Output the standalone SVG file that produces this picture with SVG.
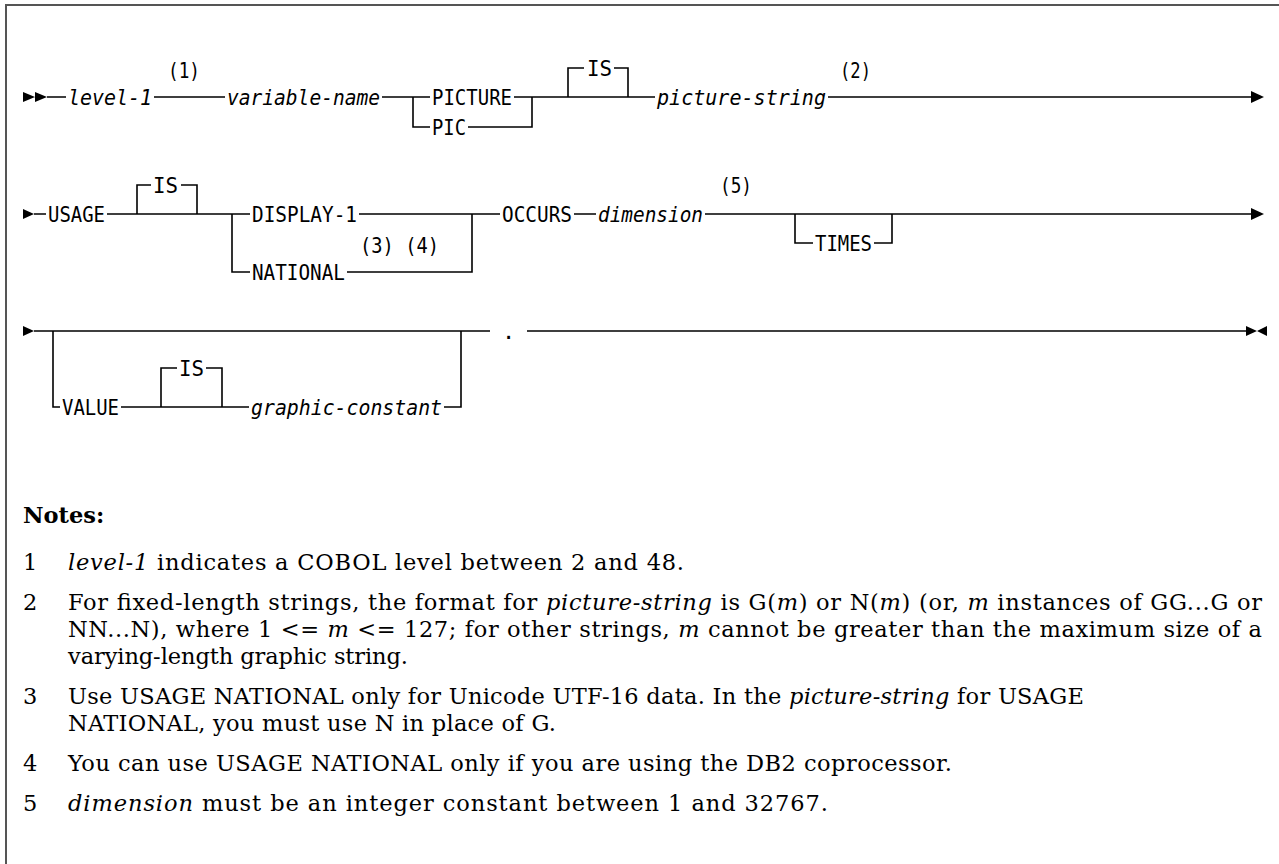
<svg xmlns="http://www.w3.org/2000/svg" width="1279" height="864" viewBox="0 0 1279 864">
<style>
.t{font-family:"DejaVu Sans Mono","Liberation Mono",monospace;font-size:22px;fill:#000}
.i{font-style:italic}
.n{font-family:"DejaVu Serif","Liberation Serif",serif;font-size:22.5px;fill:#000}
.ln{fill:none;stroke:#000;stroke-width:1.6}
.ah{fill:#000}
</style>
<rect width="1279" height="864" fill="#fff"/>
<path d="M6 864 V5 H1279" fill="none" stroke="#555" stroke-width="2"/>
<g id="connectors">
  <path class="ah" d="M23 92 L35 97 L23 102 Z M35 92 L47 97 L35 102 Z"/>
  <path class="ln" d="M47 97 H66 M154 97 H225 M382 97 H430 M514 97 H655 M828 97 H1252"/>
  <path class="ln" d="M413 97 V127 H430 M468 127 H532 V97"/>
  <path class="ln" d="M568 97 V68 H584 M614 68 H628 V97"/>
  <path class="ah" d="M1251 91 L1264 97 L1251 103 Z"/>
  <path class="ah" d="M23 209 L34 214 L23 219 Z"/>
  <path class="ln" d="M34 214 H46 M107 214 H250 M359 214 H500 M574 214 H596 M705 214 H1252"/>
  <path class="ln" d="M137 214 V185 H151 M181 185 H197 V214"/>
  <path class="ln" d="M232 214 V272 H250 M347 272 H472 V214"/>
  <path class="ln" d="M795 214 V243 H813 M874 243 H892 V214"/>
  <path class="ah" d="M1251 208 L1264 214 L1251 220 Z"/>
  <path class="ah" d="M23 326 L34 331 L23 336 Z"/>
  <path class="ln" d="M34 331 H490 M527 331 H1250"/>
  <path class="ln" d="M53 331 V407 H60 M121 407 H249 M444 407 H461 V331"/>
  <path class="ln" d="M161 407 V368 H177 M206 368 H222 V407"/>
  <path class="ah" d="M1246 326 L1257 331 L1246 336 Z M1267 326 L1257 331 L1267 336 Z"/>
</g>
<g id="row1">
  <text id="level-1" class="t i" x="68" y="105" textLength="84" lengthAdjust="spacingAndGlyphs">level-1</text>
  <text id="note1" class="t" x="168" y="78" textLength="32" lengthAdjust="spacingAndGlyphs">(1)</text>
  <text id="variable-name" class="t i" x="227" y="105" textLength="153" lengthAdjust="spacingAndGlyphs">variable-name</text>
  <text id="picture" class="t" x="432" y="105" textLength="80" lengthAdjust="spacingAndGlyphs">PICTURE</text>
  <text id="pic" class="t" x="432" y="135" textLength="34" lengthAdjust="spacingAndGlyphs">PIC</text>
  <text id="is1" class="t" x="587" y="76" textLength="25" lengthAdjust="spacingAndGlyphs">IS</text>
  <text id="picture-string" class="t i" x="657" y="105" textLength="169" lengthAdjust="spacingAndGlyphs">picture-string</text>
  <text id="note2" class="t" x="840" y="78" textLength="31" lengthAdjust="spacingAndGlyphs">(2)</text>
</g>
<g id="row2">
  <text id="usage" class="t" x="48" y="222" textLength="57" lengthAdjust="spacingAndGlyphs">USAGE</text>
  <text id="is2" class="t" x="153" y="193" textLength="25" lengthAdjust="spacingAndGlyphs">IS</text>
  <text id="display-1" class="t" x="252" y="222" textLength="105" lengthAdjust="spacingAndGlyphs">DISPLAY-1</text>
  <text id="national" class="t" x="252" y="280" textLength="93" lengthAdjust="spacingAndGlyphs">NATIONAL</text>
  <text id="note34" class="t" x="360" y="253" textLength="79" lengthAdjust="spacingAndGlyphs">(3) (4)</text>
  <text id="occurs" class="t" x="502" y="222" textLength="70" lengthAdjust="spacingAndGlyphs">OCCURS</text>
  <text id="dimension" class="t i" x="598" y="222" textLength="105" lengthAdjust="spacingAndGlyphs">dimension</text>
  <text id="note5" class="t" x="720" y="193" textLength="32" lengthAdjust="spacingAndGlyphs">(5)</text>
  <text id="times" class="t" x="815" y="251" textLength="57" lengthAdjust="spacingAndGlyphs">TIMES</text>
</g>
<g id="row3">
  <text id="value" class="t" x="62" y="415" textLength="57" lengthAdjust="spacingAndGlyphs">VALUE</text>
  <text id="is3" class="t" x="179" y="376" textLength="25" lengthAdjust="spacingAndGlyphs">IS</text>
  <text id="graphic-constant" class="t i" x="251" y="415" textLength="191" lengthAdjust="spacingAndGlyphs">graphic-constant</text>
  <text id="period" class="t" x="502" y="339">.</text>
</g>
<g id="notes">
  <text class="n" x="23" y="523" font-weight="bold">Notes:</text>
  <text class="n" x="23" y="570">1</text>
  <text class="n" x="68" y="570" textLength="616"><tspan font-style="italic">level-1</tspan> indicates a COBOL level between 2 and 48.</text>
  <text class="n" x="23" y="610">2</text>
  <text class="n" x="68" y="610" textLength="1194">For fixed-length strings, the format for <tspan font-style="italic">picture-string</tspan> is G(<tspan font-style="italic">m</tspan>) or N(<tspan font-style="italic">m</tspan>) (or, <tspan font-style="italic">m</tspan> instances of GG...G or</text>
  <text class="n" x="68" y="637" textLength="1194">NN...N), where 1 &lt;= <tspan font-style="italic">m</tspan> &lt;= 127; for other strings, <tspan font-style="italic">m</tspan> cannot be greater than the maximum size of a</text>
  <text class="n" x="68" y="664" textLength="340">varying-length graphic string.</text>
  <text class="n" x="23" y="704">3</text>
  <text class="n" x="68" y="704" textLength="1016">Use USAGE NATIONAL only for Unicode UTF-16 data. In the <tspan font-style="italic">picture-string</tspan> for USAGE</text>
  <text class="n" x="68" y="731" textLength="488">NATIONAL, you must use N in place of G.</text>
  <text class="n" x="23" y="771">4</text>
  <text class="n" x="68" y="771" textLength="884">You can use USAGE NATIONAL only if you are using the DB2 coprocessor.</text>
  <text class="n" x="23" y="811">5</text>
  <text class="n" x="68" y="811" textLength="760"><tspan font-style="italic">dimension</tspan> must be an integer constant between 1 and 32767.</text>
</g>
</svg>
